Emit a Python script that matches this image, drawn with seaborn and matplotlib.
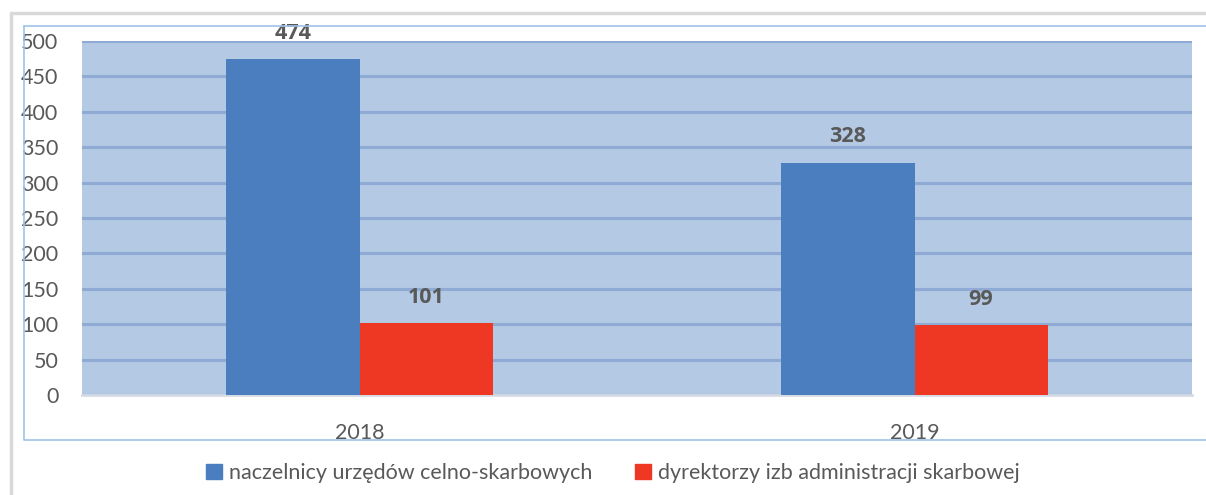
import pandas as pd
import matplotlib.pyplot as plt
import seaborn as sns
from matplotlib.lines import Line2D

# Data
years = ['2018', '2019']
series_names = ['naczelnicy urzędów celno-skarbowych',
                'dyrektorzy izb administracji skarbowej']
naczelnicy = [474, 328]
dyrektorzy = [101, 99]

df = pd.DataFrame({
    'rok': years * 2,
    'grupa': [series_names[0]] * 2 + [series_names[1]] * 2,
    'liczba': naczelnicy + dyrektorzy,
})

sns.set_style("white")
plt.rcParams['font.family'] = ['Lato', 'DejaVu Sans']

W, H = 1206, 495
fig = plt.figure(figsize=(W / 100, H / 100), dpi=100)

# outer frames (gray page border + light blue chart border)
fig.add_artist(Line2D([11 / W, 11 / W], [0, 1 - 13 / H], color='#d9d9d9', lw=2.5, transform=fig.transFigure))
fig.add_artist(Line2D([11 / W, 1], [1 - 13 / H, 1 - 13 / H], color='#d9d9d9', lw=2.5, transform=fig.transFigure))
fig.add_artist(Line2D([24 / W, 24 / W, 1], [1 - 26 / H, 1 - 440 / H, 1 - 440 / H], color='#9dc3e6', lw=1.2, transform=fig.transFigure))
fig.add_artist(Line2D([24 / W, 1], [1 - 26 / H, 1 - 26 / H], color='#9dc3e6', lw=1.2, transform=fig.transFigure))

x0, x1, y0, y1 = 82, 1192, 41, 395
ax = fig.add_axes([x0 / W, 1 - y1 / H, (x1 - x0) / W, (y1 - y0) / H])
ax.set_facecolor('#b4c9e3')

palette = {series_names[0]: '#4a7ebe', series_names[1]: '#ee3823'}
sns.barplot(data=df, x='rok', y='liczba', hue='grupa', palette=palette,
            width=0.48, saturation=1, ax=ax, legend=False, zorder=3,
            linewidth=0, edgecolor='none')

ax.set_ylim(0, 500)
ax.set_yticks(range(0, 501, 50))
ax.set_xlim(-0.5, 1.5)
ax.yaxis.grid(True, color='#8eaad5', lw=2.2, zorder=1)
ax.set_axisbelow(True)
for s in ['left', 'right', 'top']:
    ax.spines[s].set_visible(False)
ax.spines['bottom'].set_color('#d5dbe5')
ax.spines['bottom'].set_linewidth(2)
ax.tick_params(axis='both', length=0, labelsize=15.5, labelcolor='#595959')
ax.tick_params(axis='y', pad=17)
ax.tick_params(axis='x', pad=20)
ax.set_xlabel('')
ax.set_ylabel('')

for c in ax.containers:
    ax.bar_label(c, fmt='%d', padding=11, fontsize=15.5, fontweight='bold',
                 color='#595959', family=['Open Sans', 'DejaVu Sans'])

handles = [plt.Rectangle((0, 0), 1, 1, color=palette[n]) for n in series_names]
fig.legend(handles, series_names, loc='center', bbox_to_anchor=(613 / W, 1 - 473 / H),
           ncol=2, frameon=False, fontsize=15.5, labelcolor='#595959',
           handlelength=0.75, handleheight=0.75, handletextpad=0.3, columnspacing=2.0)

fig.savefig('out.png', dpi=100)
